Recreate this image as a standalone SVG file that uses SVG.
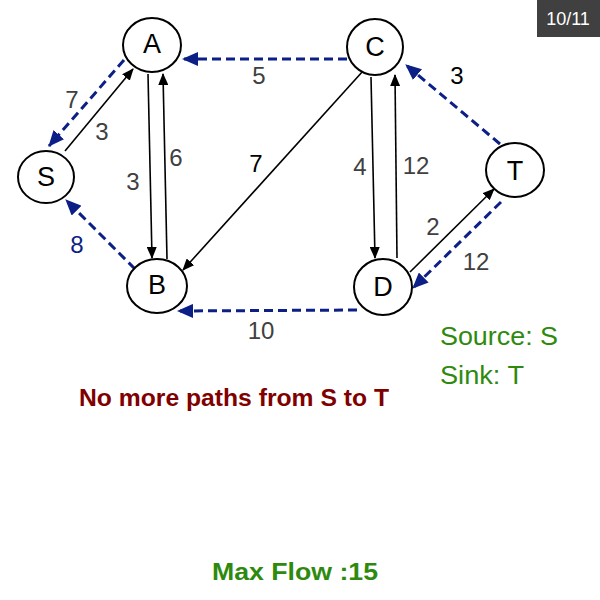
<svg xmlns="http://www.w3.org/2000/svg" width="600" height="600" viewBox="0 0 600 600">
<defs>
<marker id="ab" markerUnits="userSpaceOnUse" markerWidth="12" markerHeight="10" refX="11" refY="5" orient="auto"><path d="M0,0 L12,5 L0,10 Z" fill="#000"/></marker>
<marker id="au" markerUnits="userSpaceOnUse" markerWidth="16" markerHeight="14" refX="15" refY="7" orient="auto"><path d="M0,0 L16,7 L0,14 Z" fill="#0b1f87"/></marker>
</defs>
<style>
.n ellipse{fill:#fff;stroke:#000;stroke-width:2}
.n text{font-family:"Liberation Sans",Arial,sans-serif;font-size:27px;text-anchor:middle;dominant-baseline:central;fill:#000}
.s{stroke:#000;stroke-width:1.6;fill:none;marker-end:url(#ab)}
.d{stroke:#0b1f87;stroke-width:3;stroke-dasharray:9,5;fill:none;marker-end:url(#au)}
.l{font-family:"Liberation Sans",Arial,sans-serif;font-size:24px;fill:#404040;text-anchor:middle;dominant-baseline:central}
.k{fill:#000}
.bl{fill:#0b1f87}
.g{font-family:"Liberation Sans",Arial,sans-serif;font-size:25px;fill:#2e8a0e}
.b{font-family:"Liberation Sans",Arial,sans-serif;font-weight:bold}
</style>
<rect width="600" height="600" fill="#fff"/>
<g id="connectors">
<line class="d" x1="124" y1="60" x2="49" y2="146"/>
<line class="s" x1="65" y1="151" x2="133" y2="69"/>
<line class="s" x1="148" y1="74" x2="152" y2="258"/>
<line class="s" x1="167" y1="259" x2="163" y2="74"/>
<line class="s" x1="363" y1="71" x2="183" y2="270"/>
<line class="d" x1="135" y1="269" x2="66" y2="200"/>
<line class="d" x1="347" y1="59" x2="183" y2="59"/>
<line class="d" x1="357" y1="310" x2="178" y2="311"/>
<line class="s" x1="371" y1="77" x2="375" y2="258"/>
<line class="s" x1="397" y1="258" x2="395" y2="75"/>
<line class="d" x1="500" y1="144" x2="406" y2="65"/>
<line class="s" x1="410" y1="272" x2="494" y2="189"/>
<line class="d" x1="501" y1="202" x2="413" y2="288"/>
</g>
<g id="edge-labels">
<text class="l" x="72" y="99">7</text>
<text class="l" x="102" y="131">3</text>
<text class="l" x="133" y="181">3</text>
<text class="l" x="176" y="157">6</text>
<text class="l k" x="256" y="163">7</text>
<text class="l" x="259" y="75">5</text>
<text class="l bl" x="77" y="244">8</text>
<text class="l" x="261" y="330">10</text>
<text class="l" x="360" y="166">4</text>
<text class="l" x="416" y="165">12</text>
<text class="l k" x="457" y="75">3</text>
<text class="l" x="433" y="226">2</text>
<text class="l" x="476" y="261">12</text>
</g>
<g id="S" class="n"><ellipse cx="46" cy="177" rx="28" ry="26"/><text x="46" y="177">S</text></g>
<g id="A" class="n"><ellipse cx="152" cy="45" rx="29" ry="27"/><text x="152" y="44">A</text></g>
<g id="B" class="n"><ellipse cx="157" cy="286" rx="30" ry="27"/><text x="157" y="285">B</text></g>
<g id="C" class="n"><ellipse cx="375" cy="47" rx="28" ry="28"/><text x="375" y="47">C</text></g>
<g id="D" class="n"><ellipse cx="383" cy="287" rx="29" ry="28"/><text x="383" y="287">D</text></g>
<g id="T" class="n"><ellipse cx="515" cy="170" rx="29" ry="27"/><text x="515" y="171">T</text></g>
<g id="info">
<text class="g" x="440" y="345" textLength="118" lengthAdjust="spacingAndGlyphs">Source: S</text>
<text class="g" x="440" y="384" textLength="84" lengthAdjust="spacingAndGlyphs">Sink: T</text>
<text class="b" x="79" y="406" font-size="23" fill="#800000" textLength="310" lengthAdjust="spacingAndGlyphs">No more paths from S to T</text>
<text class="b" x="212" y="580" font-size="23" fill="#2e8a0e" textLength="166" lengthAdjust="spacingAndGlyphs">Max Flow :15</text>
</g>
<g id="page">
<rect x="537" y="0" width="63" height="37" fill="#404040"/>
<text x="568" y="19" font-family="'Liberation Sans',Arial,sans-serif" font-size="18" fill="#fff" text-anchor="middle" dominant-baseline="central">10/11</text>
</g>
</svg>
